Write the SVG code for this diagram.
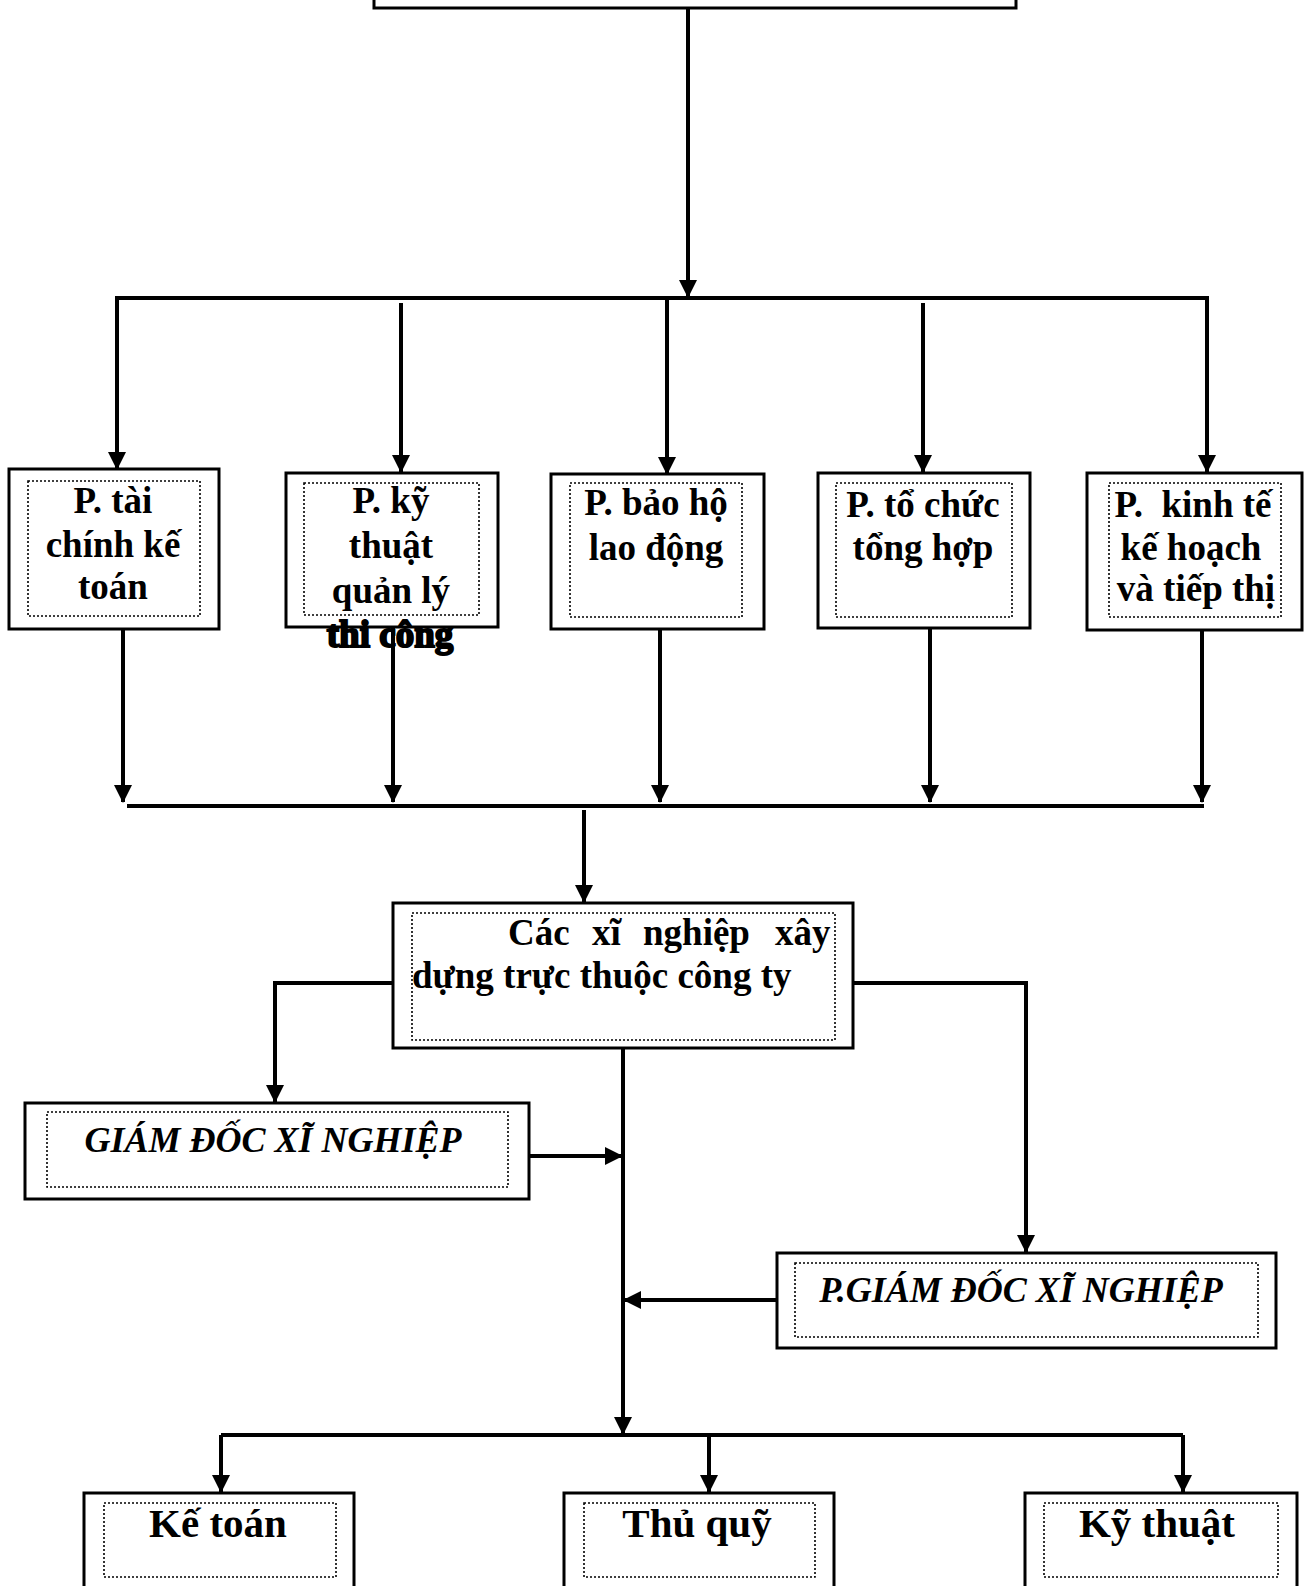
<svg xmlns="http://www.w3.org/2000/svg" width="1304" height="1586" viewBox="0 0 1304 1586">
<style>
.box{fill:#fff;stroke:#000;stroke-width:3}
.inner{fill:none;stroke:#000;stroke-width:1.6;stroke-dasharray:2 2}
.t{font-family:"Liberation Serif","Times New Roman",serif;font-weight:bold;font-size:37px;text-anchor:middle;fill:#000}
.i{font-style:italic;font-size:36px}
.b{font-size:41px}
.c{stroke:#000;stroke-width:4;fill:none}
.a{marker-end:url(#arr)}
</style>
<defs>
<marker id="arr" markerUnits="userSpaceOnUse" markerWidth="18" markerHeight="18" refX="17" refY="9" orient="auto">
<path d="M0,0 L18,9 L0,18 z" fill="#000"/>
</marker>
</defs>
<rect width="1304" height="1586" fill="#fff"/>
<g id="connectors">
<path class="c a" d="M688,8 V297"/>
<path class="c" d="M115,298 H1209"/>
<path class="c a" d="M117,298 V469"/>
<path class="c a" d="M401,303 V472"/>
<path class="c a" d="M667,300 V474"/>
<path class="c a" d="M923,303 V472"/>
<path class="c a" d="M1207,298 V472"/>
<path class="c a" d="M123,629 V802"/>
<path class="c a" d="M393,627 V802"/>
<path class="c a" d="M660,629 V802"/>
<path class="c a" d="M930,628 V802"/>
<path class="c a" d="M1202,630 V802"/>
<path class="c" d="M127,806 H1204"/>
<path class="c a" d="M584,810 V902"/>
<path class="c a" d="M393,983 H275 V1102"/>
<path class="c a" d="M853,983 H1026 V1252"/>
<path class="c a" d="M623,1048 V1434"/>
<path class="c a" d="M529,1156 H622"/>
<path class="c a" d="M777,1300 H624"/>
<path class="c" d="M221,1435 H1183"/>
<path class="c a" d="M221,1435 V1492"/>
<path class="c a" d="M709,1435 V1492"/>
<path class="c a" d="M1183,1435 V1492"/>
</g>
<g id="top">
<rect class="box" x="374" y="-60" width="642" height="68"/>
</g>
<g id="p-taichinh">
<rect class="box" x="9" y="469" width="210" height="160"/>
<rect class="inner" x="28" y="481" width="172" height="135"/>
<text class="t" x="113" y="513">P. tài</text>
<text class="t" x="113" y="557">chính kế</text>
<text class="t" x="113" y="599">toán</text>
</g>
<g id="p-kythuat">
<rect class="box" x="286" y="473" width="212" height="154"/>
<rect class="inner" x="304" y="483" width="175" height="132"/>
<text class="t" x="391" y="513">P. kỹ</text>
<text class="t" x="391" y="558">thuật</text>
<text class="t" x="391" y="603">quản lý</text>
<text class="t" x="390" y="647" stroke="#000" stroke-width="2">thi công</text>
</g>
<g id="p-baoho">
<rect class="box" x="551" y="474" width="213" height="155"/>
<rect class="inner" x="570" y="483" width="172" height="134"/>
<text class="t" x="656" y="515">P. bảo hộ</text>
<text class="t" x="656" y="560">lao động</text>
</g>
<g id="p-tochuc">
<rect class="box" x="818" y="473" width="212" height="155"/>
<rect class="inner" x="836" y="483" width="176" height="134"/>
<text class="t" x="923" y="517">P. tổ chức</text>
<text class="t" x="923" y="560">tổng hợp</text>
</g>
<g id="p-kinhte">
<rect class="box" x="1087" y="473" width="215" height="157"/>
<rect class="inner" x="1109" y="483" width="172" height="134"/>
<text class="t" x="1193" y="517" xml:space="preserve">P.  kinh tế</text>
<text class="t" x="1191" y="560">kế hoạch</text>
<text class="t" x="1196" y="601">và tiếp thị</text>
</g>
<g id="xinghiep">
<rect class="box" x="393" y="903" width="460" height="145"/>
<rect class="inner" x="412" y="913" width="423" height="127"/>
<text class="t" style="text-anchor:start" y="945"><tspan x="508">Các</tspan><tspan x="592">xĩ</tspan><tspan x="643">nghiệp</tspan><tspan x="775">xây</tspan></text>
<text class="t" style="text-anchor:start" x="412" y="988">dựng trực thuộc công ty</text>
</g>
<g id="giamdoc">
<rect class="box" x="25" y="1103" width="504" height="96"/>
<rect class="inner" x="47" y="1112" width="461" height="75"/>
<text class="t i" x="273" y="1152">GIÁM ĐỐC XĨ NGHIỆP</text>
</g>
<g id="pgiamdoc">
<rect class="box" x="777" y="1253" width="499" height="95"/>
<rect class="inner" x="795" y="1263" width="463" height="74"/>
<text class="t i" x="1021" y="1302">P.GIÁM ĐỐC XĨ NGHIỆP</text>
</g>
<g id="ketoan">
<rect class="box" x="84" y="1493" width="270" height="120"/>
<rect class="inner" x="104" y="1503" width="232" height="74"/>
<text class="t b" x="218" y="1537">Kế toán</text>
</g>
<g id="thuquy">
<rect class="box" x="564" y="1493" width="270" height="120"/>
<rect class="inner" x="584" y="1503" width="231" height="74"/>
<text class="t b" x="697" y="1537">Thủ quỹ</text>
</g>
<g id="kythuat">
<rect class="box" x="1025" y="1493" width="272" height="120"/>
<rect class="inner" x="1044" y="1503" width="234" height="74"/>
<text class="t b" x="1157" y="1537">Kỹ thuật</text>
</g>
</svg>
